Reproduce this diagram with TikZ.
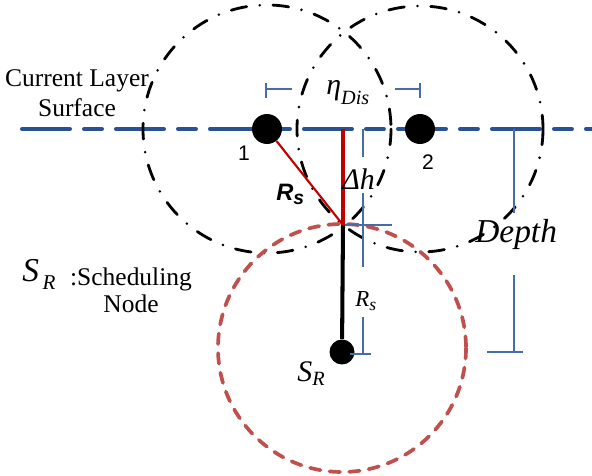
\documentclass[tikz,border=0pt]{standalone}
\usepackage{fontspec}
\setmainfont{Liberation Serif}
\newfontfamily\arialfont{Liberation Sans}
\definecolor{lblue}{RGB}{41,82,148}
\definecolor{dimblue}{RGB}{70,108,172}
\definecolor{dred}{RGB}{192,0,0}
\definecolor{rred}{RGB}{192,80,77}

\begin{document}
\begin{tikzpicture}[x=0.02cm, y=-0.02cm,
    sensor/.style={circle, fill=black, inner sep=0pt},
    surface/.style={lblue, line width=2.3pt, line cap=round,
      dash pattern=on 27.3pt off 8pt on 10.2pt off 8pt},
    covcircle/.style={line width=1.6pt, line cap=round,
      dash pattern=on 9pt off 7.5pt on 0pt off 7.5pt},
    rangecircle/.style={rred, line width=2.1pt, line cap=round,
      dash pattern=on 6pt off 5.2pt},
    dimline/.style={dimblue, line width=0.6pt}]
  \useasboundingbox (0,0) rectangle (592,476);

  % layer surface
  \draw[surface] (22,129) -- (596,129);

  % sensor nodes and scheduling node
  \node[sensor, minimum size=0.6cm] (n1) at (267,129) {};
  \node[sensor, minimum size=0.6cm] (n2) at (420,129) {};
  \node[sensor, minimum size=0.5cm] (sr) at (342,352) {};
  \coordinate (top) at (343,129);
  \coordinate (meet) at (343,225);

  % coverage circles
  \draw[covcircle] (n1) circle[radius=124];
  \draw[covcircle] (n2) circle[radius=123];
  \draw[rangecircle] (342,348) circle[radius=124];

  % dimensions
  \draw[dimline] (266,83) -- (266,98) (266,89) -- (292,89);
  \draw[dimline] (395,89) -- (420,89) (420,83) -- (420,98);
  \draw[dimline] (363,129) -- (363,157) (363,193) -- (363,267)
    (363,317) -- (363,354);
  \draw[dimline] (343,225) -- (392,225) (350,354) -- (371,354);
  \draw[dimline] (514,129) -- (514,213) (514,275) -- (514,352)
    (487,352) -- (523,352);

  % radius and height
  \draw[dred, line width=1.2pt] (n1) -- (meet);
  \draw[dred, line width=2.3pt] (top) -- (meet);
  \draw[line width=2.3pt] (meet) -- (sr);

  % labels
  \node[font=\fontsize{14.5}{17}\selectfont, align=center, inner sep=0pt]
    (layer) at (77,93) {Current Layer\\Surface};
  \node[font=\arialfont\fontsize{12}{12}\selectfont, inner sep=0pt]
    (lab1) at (244,153) {1};
  \node[font=\arialfont\fontsize{12}{12}\selectfont, inner sep=0pt]
    (lab2) at (428,162) {2};
  \node[anchor=base west, inner sep=0pt, font=\fontsize{17}{17}\selectfont\itshape]
    (eta) at (326,95) {η\raisebox{-5.5pt}{\fontsize{11.5}{11.5}\selectfont Dis}};
  \node[anchor=base west, inner sep=0pt, font=\fontsize{17}{17}\selectfont\itshape]
    (dh) at (342,190) {Δh};
  \node[anchor=base west, inner sep=0pt,
        font=\arialfont\bfseries\itshape\fontsize{13.5}{13.5}\selectfont]
    (rsa) at (276,201) {R\raisebox{-2pt}{\fontsize{11}{11}\selectfont s}};
  \node[anchor=base west, inner sep=0pt, font=\fontsize{13}{13}\selectfont\itshape]
    (rsb) at (355,307) {R\raisebox{-2pt}{\fontsize{10}{10}\selectfont s}};
  \node[anchor=base west, inner sep=0pt, font=\fontsize{19}{19}\selectfont\itshape]
    (depth) at (475,243) {Depth};
  \node[anchor=base west, inner sep=0pt, font=\fontsize{19}{19}\selectfont\itshape]
    (srkey) at (22,282) {S\hspace{2pt}\raisebox{-4.5pt}{\fontsize{12}{12}\selectfont R}};
  \node[font=\fontsize{14.5}{15.4}\selectfont, align=center, inner sep=0pt]
    (srtext) at (131,290) {:Scheduling\\Node};
  \node[anchor=base west, inner sep=0pt, font=\fontsize{17}{17}\selectfont\itshape]
    (srlab) at (297,381) {S\raisebox{-2.3pt}{\fontsize{11.5}{11.5}\selectfont R}};
\end{tikzpicture}
\end{document}
